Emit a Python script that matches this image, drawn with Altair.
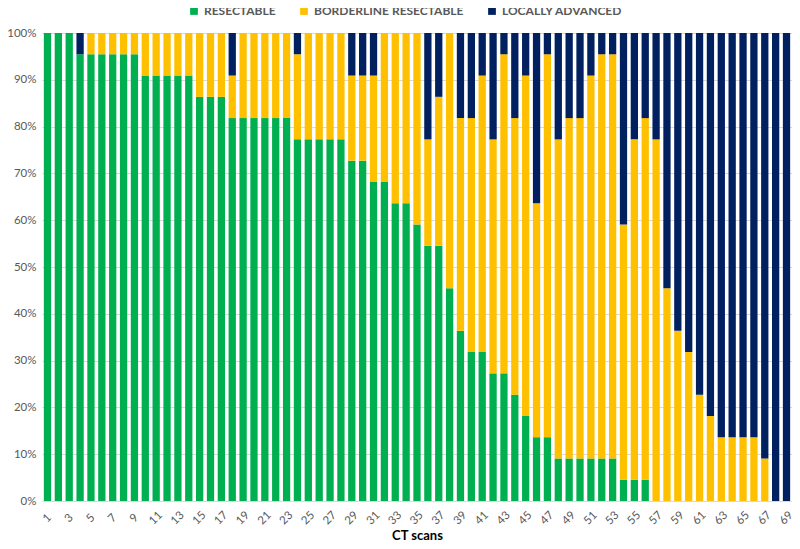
import altair as alt
import pandas as pd

scans = list(range(1, 70))
categories = ["RESECTABLE", "BORDERLINE RESECTABLE", "LOCALLY ADVANCED"]
colors = ["#00B050", "#FFC000", "#002060"]
y_ticks = [0, 0.1, 0.2, 0.3, 0.4, 0.5, 0.6, 0.7, 0.8, 0.9, 1.0]

resectable = [22, 22, 22, 21, 21, 21, 21, 21, 21, 20, 20, 20, 20, 20, 19, 19, 19, 18, 18, 18,
              18, 18, 18, 17, 17, 17, 17, 17, 16, 16, 15, 15, 14, 14, 13, 12, 12, 10, 8, 7,
              7, 6, 6, 5, 4, 3, 3, 2, 2, 2, 2, 2, 2, 1, 1, 1, 0, 0, 0, 0,
              0, 0, 0, 0, 0, 0, 0, 0, 0]
borderline = [0, 0, 0, 0, 1, 1, 1, 1, 1, 2, 2, 2, 2, 2, 3, 3, 3, 2, 4, 4,
              4, 4, 4, 4, 5, 5, 5, 5, 4, 4, 5, 7, 8, 8, 9, 5, 7, 12, 10, 11,
              13, 11, 15, 13, 16, 11, 18, 15, 16, 16, 18, 19, 19, 12, 16, 17, 17, 10, 8, 7,
              5, 4, 3, 3, 3, 3, 2, 0, 0]
locally_adv = [0, 0, 0, 1, 0, 0, 0, 0, 0, 0, 0, 0, 0, 0, 0, 0, 0, 2, 0, 0,
               0, 0, 0, 1, 0, 0, 0, 0, 2, 2, 2, 0, 0, 0, 0, 5, 3, 0, 4, 4,
               2, 5, 1, 4, 2, 8, 1, 5, 4, 4, 2, 1, 1, 9, 5, 4, 5, 12, 14, 15,
               17, 18, 19, 19, 19, 19, 20, 22, 22]

rows = []
for i, s in enumerate(scans):
    for k, (cat, vals) in enumerate(zip(categories, [resectable, borderline, locally_adv])):
        rows.append({"scan": s, "category": cat, "count": vals[i], "order": k})
df = pd.DataFrame(rows)

font = "Lato"
gray = "#595959"

chart = alt.Chart(df).mark_bar().encode(
    x=alt.X("scan:O", title="CT scans",
            scale=alt.Scale(paddingInner=0.33, paddingOuter=0.17),
            axis=alt.Axis(values=[v for v in scans if v % 2 == 1], labelAngle=-45,
                          labelAlign="center", labelBaseline="middle",
                          labelFontSize=11.5, labelColor=gray, labelFont=font,
                          labelPadding=17, labelOverlap=False,
                          ticks=False, domainColor="#D9D9D9",
                          titleFont=font, titleFontSize=13, titleFontWeight="bold",
                          titleColor="#000000", titleBaseline="alphabetic",
                          titleY=38)),
    y=alt.Y("count:Q", stack="normalize", title=None,
            scale=alt.Scale(domain=[0, 1], nice=False),
            axis=alt.Axis(format=".0%", values=y_ticks, labelOverlap=False,
                          labelFontSize=11.5, labelColor=gray, labelFont=font,
                          ticks=False, domain=False, gridColor="#D9D9D9",
                          labelPadding=6)),
    color=alt.Color("category:N", scale=alt.Scale(domain=categories, range=colors),
                    legend=alt.Legend(title=None, orient="none", direction="horizontal",
                                      legendX=146, legendY=-28,
                                      symbolType="square", symbolSize=60,
                                      symbolStrokeWidth=0,
                                      labelFont=font, labelFontSize=12,
                                      labelFontWeight="bold", labelColor=gray,
                                      labelLimit=300,
                                      columnPadding=22)),
    order=alt.Order("order:Q", sort="ascending"),
).properties(
    width=750, height=468,
    autosize=alt.AutoSizeParams(type="none"),
    padding={"left": 34, "top": 25, "right": 0, "bottom": 40},
).configure_view(stroke=None)

chart.save("out.html", embed_options={"renderer": "svg", "actions": False})
